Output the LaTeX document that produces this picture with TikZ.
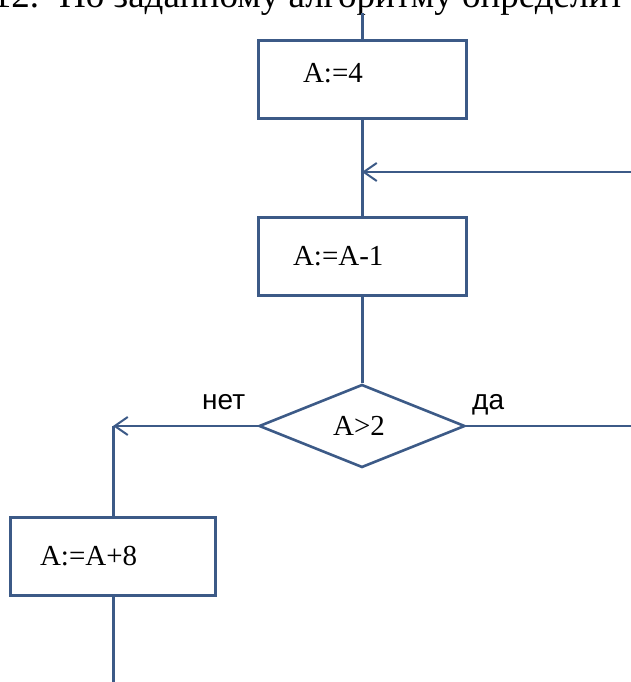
\documentclass[tikz,border=0pt]{standalone}
\usepackage{fontspec}
\setmainfont{Liberation Serif}
\newfontfamily\sansL{Liberation Sans}
\usetikzlibrary{shapes.geometric,arrows.meta}
\definecolor{fc}{RGB}{60,90,135}
\begin{document}
\begin{tikzpicture}[x=1pt,y=1pt,
  procbox/.style={draw=fc, line width=3pt, inner xsep=0pt, text width=#1, align=left,
    minimum height=78pt, font=\fontsize{29}{32}\selectfont},
  decision/.style={draw=fc, line width=2.6pt, diamond, inner sep=0pt,
    minimum width=206pt, minimum height=83pt, font=\fontsize{29}{32}\selectfont},
  conn/.style={draw=fc, line width=3pt},
  thinconn/.style={draw=fc, line width=2pt},
  arr/.style={-{Straight Barb[length=13pt,width=18pt]}},
  lbl/.style={font=\sansL\fontsize{28}{30}\selectfont, inner sep=0pt, anchor=base west},
]
\useasboundingbox (0,0) rectangle (631,-682);
\clip (0,0) rectangle (631,-682);
\fill[white] (0,0) rectangle (631,-682);

% heading (cut off at the top, as in the reference)
\node[anchor=base west, inner sep=0pt, font=\fontsize{37}{40}\selectfont] (head) at (59,-8)
  {\llap{12.\hspace{20pt}}По заданному алгоритму определит};

% blocks
\node[procbox=208pt, text depth=14pt, text height=20pt] (b1) at (362,-79.5) {\hspace*{45pt}A:=4};
\node[procbox=208pt] (b2) at (362,-256) {\hspace*{35pt}A:=A-1};
\node[decision] (d) at (362,-426) {\hspace*{-6pt}A>2};
\node[procbox=205pt] (b3) at (113,-556) {\hspace*{29.5pt}A:=A+8};

% free ends
\coordinate (top) at (362,-13);
\coordinate (r1) at (631,-172);
\coordinate (j1) at (362,-172);
\coordinate (j2) at (113,-426);
\coordinate (r2) at (631,-426);
\coordinate (bot) at (113,-690);

% connectors
\draw[conn] (top) -- (b1.north);
\draw[conn] (b1.south) -- (b2.north);
\draw[thinconn, arr] (r1) -- (j1);
\draw[conn] (b2.south) -- (d.north);
\draw[thinconn, arr] (d.west) -- (j2);
\draw[conn] (j2) -- (b3.north);
\draw[conn] (b3.south) -- (bot);
\draw[thinconn] (d.east) -- (r2);

% branch labels
\node[lbl] (no) at (202,-409) {нет};
\node[lbl] (yes) at (472,-409) {да};
\end{tikzpicture}
\end{document}
